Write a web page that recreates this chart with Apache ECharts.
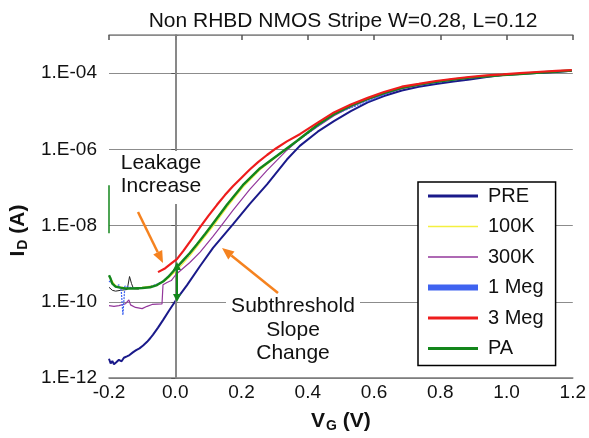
<!DOCTYPE html>
<html>
<head>
<meta charset="utf-8">
<script src="https://cdn.jsdelivr.net/npm/echarts@6/dist/echarts.min.js"></script>
<style>
html,body{margin:0;padding:0;background:#fff;}
#chart{width:589px;height:438px;}
</style>
</head>
<body>
<div id="chart"></div>
<script>
// ---------- DATA (V_G in volts, I_D in amperes) ----------
const titleText = 'Non RHBD NMOS Stripe W=0.28, L=0.12';
const seriesNames = ['PRE', '100K', '300K', '1 Meg', '3 Meg', 'PA'];
const xTicks = [-0.2, 0.0, 0.2, 0.4, 0.6, 0.8, 1.0, 1.2];
const yTickLabels = ['1.E-12', '1.E-10', '1.E-08', '1.E-06', '1.E-04'];

const pre = [
  [-0.200, 3.2e-12], [-0.195, 2.4e-12], [-0.190, 2.8e-12], [-0.185, 2.3e-12],
  [-0.178, 2.6e-12], [-0.170, 3.0e-12], [-0.162, 2.75e-12], [-0.155, 3.4e-12],
  [-0.146, 3.7e-12], [-0.138, 4.0e-12], [-0.128, 4.7e-12], [-0.118, 5.4e-12],
  [-0.108, 6.0e-12], [-0.097, 7.1e-12], [-0.085, 8.9e-12], [-0.075, 1.12e-11],
  [-0.067, 1.38e-11], [-0.052, 2.1e-11], [-0.037, 3.3e-11], [-0.018, 6.0e-11],
  [0.002, 1.1e-10], [0.035, 2.7e-10], [0.075, 8.7e-10], [0.114, 2.6e-9],
  [0.174, 1.07e-8], [0.225, 3.7e-8], [0.277, 1.2e-7], [0.337, 5.4e-7],
  [0.376, 1.23e-6], [0.430, 2.9e-6], [0.479, 5.5e-6], [0.530, 1.0e-5],
  [0.581, 1.7e-5], [0.630, 2.5e-5], [0.684, 3.5e-5], [0.735, 4.4e-5],
  [0.787, 5.2e-5], [0.840, 6.0e-5], [0.889, 6.8e-5], [0.940, 7.9e-5],
  [0.989, 8.9e-5], [1.040, 9.5e-5], [1.091, 1.0e-4], [1.150, 1.07e-4], [1.197, 1.15e-4]
];
const k100 = [
  [-0.200, 4.6e-10], [-0.180, 2.6e-10], [-0.150, 2.3e-10], [-0.100, 2.4e-10],
  [-0.060, 2.7e-10], [-0.030, 3.6e-10], [0.002, 6.3e-10], [0.044, 1.6e-9],
  [0.075, 3.5e-9], [0.114, 9.5e-9], [0.156, 3.0e-8], [0.204, 1.0e-7],
  [0.256, 2.9e-7], [0.307, 6.5e-7], [0.367, 1.6e-6], [0.430, 4.3e-6],
  [0.479, 8.1e-6], [0.581, 2.1e-5], [0.684, 4.1e-5], [0.787, 5.9e-5],
  [0.889, 7.6e-5], [0.989, 8.9e-5], [1.091, 1.02e-4], [1.197, 1.17e-4]
];
const k300 = [
  [-0.200, 7.9e-11], [-0.185, 7.6e-11], [-0.170, 7.9e-11], [-0.150, 8.9e-11],
  [-0.140, 1.12e-10], [-0.135, 8.3e-11], [-0.120, 7.1e-11], [-0.100, 6.6e-11],
  [-0.085, 7.6e-11], [-0.070, 8.5e-11], [-0.040, 8.8e-11], [-0.037, 2.8e-10],
  [-0.025, 3.2e-10], [-0.012, 3.6e-10], [0.002, 5.2e-10], [0.044, 1.07e-9],
  [0.075, 2.0e-9], [0.114, 5.2e-9], [0.135, 8.9e-9], [0.174, 2.5e-8],
  [0.225, 8.9e-8], [0.277, 2.8e-7], [0.337, 9.5e-7], [0.376, 1.9e-6],
  [0.430, 4.0e-6], [0.479, 7.6e-6], [0.530, 1.29e-5], [0.581, 2.0e-5],
  [0.684, 3.9e-5], [0.787, 5.75e-5], [0.889, 7.4e-5], [0.989, 8.9e-5],
  [1.091, 1.02e-4], [1.197, 1.17e-4]
];
const meg1 = [
  [-0.200, 3.5e-10], [-0.190, 3.0e-10], [-0.180, 2.4e-10], [-0.170, 2.8e-10],
  [-0.163, 2.0e-10], [-0.158, 4.5e-11], [-0.152, 2.6e-10], [-0.140, 2.4e-10],
  [-0.120, 2.3e-10], [-0.080, 2.4e-10], [-0.040, 3.3e-10], [0.002, 7.2e-10],
  [0.044, 1.8e-9], [0.090, 5.8e-9], [0.156, 3.4e-8], [0.204, 1.12e-7],
  [0.256, 3.1e-7], [0.307, 6.7e-7], [0.367, 1.6e-6], [0.479, 8.2e-6],
  [0.684, 4.1e-5], [0.889, 7.6e-5], [1.091, 1.02e-4], [1.197, 1.17e-4]
];
const meg3 = [
  [-0.052, 6.0e-10], [-0.030, 7.6e-10], [-0.010, 1.05e-9], [0.005, 1.32e-9],
  [0.025, 2.2e-9], [0.050, 4.4e-9], [0.075, 9.1e-9], [0.100, 1.8e-8],
  [0.126, 3.5e-8], [0.150, 6.3e-8], [0.174, 1.07e-7], [0.200, 1.8e-7],
  [0.225, 2.95e-7], [0.250, 4.6e-7], [0.277, 7.1e-7], [0.305, 1.07e-6],
  [0.337, 1.62e-6], [0.376, 2.5e-6], [0.430, 5.0e-6], [0.479, 9.3e-6],
  [0.530, 1.5e-5], [0.581, 2.24e-5], [0.630, 3.2e-5], [0.684, 4.4e-5],
  [0.735, 5.2e-5], [0.787, 6.2e-5], [0.840, 7.1e-5], [0.886, 7.9e-5],
  [0.940, 8.7e-5], [0.989, 9.3e-5], [1.040, 1.0e-4], [1.091, 1.07e-4],
  [1.150, 1.15e-4], [1.197, 1.2e-4]
];
const pa = [
  [-0.200, 5.0e-10], [-0.195, 4.0e-10], [-0.190, 3.0e-10], [-0.180, 2.5e-10],
  [-0.167, 2.35e-10], [-0.150, 2.24e-10], [-0.128, 2.24e-10], [-0.100, 2.3e-10],
  [-0.076, 2.4e-10], [-0.055, 2.75e-10], [-0.037, 3.4e-10], [-0.018, 4.8e-10],
  [0.002, 7.6e-10], [0.025, 1.26e-9], [0.044, 1.9e-9], [0.065, 3.2e-9],
  [0.090, 6.0e-9], [0.105, 8.9e-9], [0.156, 3.5e-8], [0.204, 1.15e-7],
  [0.256, 3.2e-7], [0.307, 6.8e-7], [0.367, 1.66e-6], [0.430, 4.4e-6],
  [0.479, 8.3e-6], [0.530, 1.4e-5], [0.581, 2.1e-5], [0.630, 3.0e-5],
  [0.684, 4.1e-5], [0.735, 5.0e-5], [0.787, 5.9e-5], [0.840, 6.8e-5],
  [0.889, 7.6e-5], [0.940, 8.3e-5], [0.989, 8.9e-5], [1.040, 9.5e-5],
  [1.091, 1.02e-4], [1.150, 1.1e-4], [1.197, 1.17e-4]
];
const paEdge = [[-0.2, 1.15e-7], [-0.2, 6.3e-9]];
const blackNoise = [
  [-0.200, 2.4e-10], [-0.190, 2.0e-10], [-0.180, 1.9e-10], [-0.165, 2.0e-10],
  [-0.145, 2.1e-10], [-0.138, 4.6e-10], [-0.132, 3.0e-10], [-0.126, 2.2e-10],
  [-0.110, 2.15e-10]
];

// ---------- CHART ----------
const FONT = '"Liberation Sans", Arial, Helvetica, sans-serif';
const chart = echarts.init(document.getElementById('chart'), null, {renderer: 'canvas'});

function arrow(x1, y1, x2, y2, color, w, hl, hw, both) {
  const els = [];
  const dx = x2 - x1, dy = y2 - y1, len = Math.hypot(dx, dy);
  const ux = dx / len, uy = dy / len, px = -uy, py = ux;
  const head = (tx, ty, sx, sy) => ({
    type: 'polygon', z: 10,
    shape: {points: [[tx, ty], [tx - sx * hl + px * hw, ty - sy * hl + py * hw], [tx - sx * hl - px * hw, ty - sy * hl - py * hw]]},
    style: {fill: color}
  });
  const sx1 = both ? x1 + ux * hl : x1, sy1 = both ? y1 + uy * hl : y1;
  els.push({type: 'line', z: 10, shape: {x1: sx1, y1: sy1, x2: x2 - ux * hl, y2: y2 - uy * hl}, style: {stroke: color, lineWidth: w}});
  els.push(head(x2, y2, ux, uy));
  if (both) els.push(head(x1, y1, -ux, -uy));
  return els;
}

const fmtY = v => {
  const e = Math.round(Math.log10(v));
  if (e % 2 !== 0) return '';
  const lbl = '1.E-' + String(-e).padStart(2, '0');
  return yTickLabels.indexOf(lbl) >= 0 ? lbl : '';
};

const colors = {PRE: '#1a1a8a', '100K': '#f4f040', '300K': '#93379b', '1 Meg': '#3f63f0', '3 Meg': '#ee1c1c', PA: '#13861b'};
const dataMap = {PRE: pre, '100K': k100, '300K': k300, '1 Meg': meg1, '3 Meg': meg3, PA: pa};
const widths = {PRE: 2, '100K': 1.2, '300K': 1.2, '1 Meg': 1.2, '3 Meg': 2.2, PA: 2.4};
const zs = {PRE: 3, '100K': 4, '300K': 5, '1 Meg': 6, '3 Meg': 8, PA: 7};
const legendWidths = {PRE: 3, '100K': 1.5, '300K': 1.5, '1 Meg': 6, '3 Meg': 3, PA: 3};

const series = seriesNames.map(n => ({
  name: n, type: 'line', data: dataMap[n], showSymbol: false, symbol: 'none',
  z: zs[n], lineStyle: {color: colors[n], width: widths[n], type: n === '1 Meg' ? [2, 1] : 'solid'},
  itemStyle: {color: colors[n]}, animation: false
}));
series.push({
  type: 'line', data: paEdge, showSymbol: false, symbol: 'none', z: 7,
  lineStyle: {color: colors.PA, width: 1.5}, animation: false, clip: false
});
series.push({
  type: 'line', data: blackNoise, showSymbol: false, symbol: 'none', z: 5,
  lineStyle: {color: '#222', width: 1}, animation: false
});
series.push({
  type: 'line', data: [], z: 1, animation: false,
  markLine: {
    silent: true, symbol: 'none', label: {show: false}, animation: false,
    data: [
      {xAxis: 0, lineStyle: {color: '#8a8a8a', width: 1.5, type: 'solid'}},
      {yAxis: 1e-4, lineStyle: {color: '#111', width: 1.5, type: 'solid'}}
    ]
  }
});

const option = {
  backgroundColor: '#fff',
  animation: false,
  title: {
    text: titleText, left: 338, top: 6, textAlign: 'center',
    textStyle: {fontSize: 21, fontWeight: 'normal', color: '#111', fontFamily: FONT}
  },
  grid: {left: 109, right: 16, top: 35, bottom: 54, containLabel: false},
  legend: {
    orient: 'vertical', left: 418, top: 182,
    padding: [4, 12, 7, 7], itemWidth: 50, itemHeight: 14, itemGap: 10.5,
    borderColor: '#000', borderWidth: 1.5, backgroundColor: '#fff',
    textStyle: {fontSize: 20, color: '#111', fontFamily: FONT, lineHeight: 20, padding: [0, 0, 0, 5]},
    data: seriesNames.map(n => ({
      name: n,
      itemStyle: {opacity: 0},
      lineStyle: {width: legendWidths[n], color: colors[n], type: 'solid', opacity: 1}
    }))
  },
  xAxis: [{
    type: 'value', min: xTicks[0], max: xTicks[xTicks.length - 1], interval: 0.2, position: 'bottom',
    axisLine: {show: true, lineStyle: {color: '#7a7a7a', width: 1.5}},
    axisTick: {show: false},
    splitLine: {show: false},
    axisLabel: {fontSize: 19, color: '#111', fontFamily: FONT, margin: 5, formatter: v => v.toFixed(1)},
    name: '{v|V}{s|G}{v| (V)}', nameLocation: 'middle', nameGap: 32,
    nameTextStyle: {rich: {
      v: {fontSize: 21, fontWeight: 'bold', color: '#111', fontFamily: FONT},
      s: {fontSize: 14, fontWeight: 'bold', color: '#111', fontFamily: FONT, padding: [9, 0, 0, 1]}
    }}
  }, {
    type: 'value', min: xTicks[0], max: xTicks[xTicks.length - 1], interval: 0.2, position: 'top',
    axisLine: {show: true, lineStyle: {color: '#8a8a8a', width: 1.5}},
    axisTick: {show: true, inside: true, length: 5, lineStyle: {color: '#555', width: 1.5}},
    axisLabel: {show: false}, splitLine: {show: false}
  }],
  yAxis: [{
    type: 'log', logBase: 100, min: 1e-12, max: 1e-3, position: 'left',
    axisLine: {show: true, lineStyle: {color: '#555', width: 1.5}},
    axisTick: {show: true, inside: false, length: 4, lineStyle: {color: '#555'}},
    minorTick: {show: false},
    splitLine: {show: true, lineStyle: {color: '#8c8c8c', width: 1.2}},
    axisLabel: {fontSize: 19, color: '#111', fontFamily: FONT, margin: 12, formatter: fmtY, showMaxLabel: false},
    name: '{v|I}{s|D}{v| (A)}', nameLocation: 'middle', nameGap: 74, nameRotate: 90,
    nameTextStyle: {padding: [0, 48, 0, 0], rich: {
      v: {fontSize: 21, fontWeight: 'bold', color: '#111', fontFamily: FONT},
      s: {fontSize: 14, fontWeight: 'bold', color: '#111', fontFamily: FONT, padding: [9, 0, 0, 1]}
    }}
  }, {
    type: 'log', logBase: 100, min: 1e-12, max: 1e-3, position: 'right',
    axisLine: {show: true, lineStyle: {color: '#8a8a8a', width: 1.5}},
    axisTick: {show: true, inside: false, length: 3, lineStyle: {color: '#777'}},
    axisLabel: {show: false}, splitLine: {show: false}
  }],
  series: series,
  graphic: [
    {type: 'rect', z: 9, shape: {x: 117, y: 151, width: 90, height: 53}, style: {fill: '#fff'}},
    {type: 'text', z: 10, x: 161, y: 175, style: {text: 'Leakage\nIncrease', font: '21px ' + FONT, fill: '#111', align: 'center', verticalAlign: 'middle', lineHeight: 23}},
    {type: 'rect', z: 9, shape: {x: 226, y: 294, width: 134, height: 72}, style: {fill: '#fff'}},
    {type: 'text', z: 10, x: 293, y: 330, style: {text: 'Subthreshold\nSlope\nChange', font: '21px ' + FONT, fill: '#111', align: 'center', verticalAlign: 'middle', lineHeight: 23.5}},
    ...arrow(138, 212, 163, 263, '#f5821f', 2.5, 12, 5, false),
    ...arrow(278, 293, 222, 248, '#f5821f', 2.5, 12, 5, false),
    ...arrow(177, 262, 177, 302, '#13861b', 2, 8, 4, true)
  ]
};
chart.setOption(option);
</script>
</body>
</html>
